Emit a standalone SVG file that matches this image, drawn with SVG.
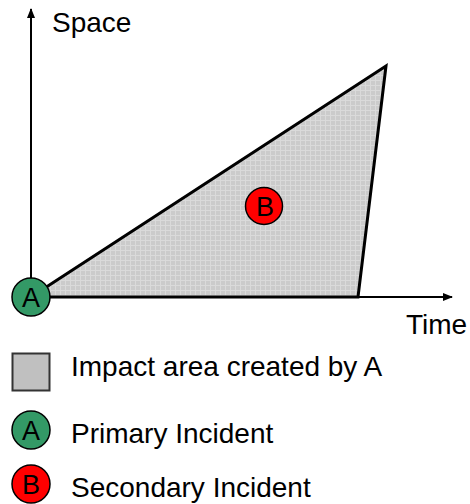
<svg xmlns="http://www.w3.org/2000/svg" width="470" height="504" viewBox="0 0 470 504">
<style>
text{font-family:"Liberation Sans",Arial,sans-serif;font-size:28px;fill:#000}
.ax{stroke:#000;stroke-width:2;fill:none}
.circ{stroke:#000;stroke-width:1.5}
.lbl{text-anchor:middle;font-size:27px}
</style>
<defs>
<pattern id="grid" width="5" height="5" patternUnits="userSpaceOnUse">
<rect width="5" height="5" fill="#cbcbcb"/>
<path d="M0 0.5H5M0.5 0V5" stroke="#dadada" stroke-width="1"/>
</pattern>
<marker id="arr" markerWidth="10" markerHeight="10" refX="9" refY="5" orient="auto" markerUnits="userSpaceOnUse">
<path d="M0 1L10 5L0 9Z" fill="#000"/>
</marker>
</defs>
<g id="area">
<polygon points="31,297 386,66 358,297" fill="url(#grid)" stroke="#000" stroke-width="3" stroke-linejoin="miter"/>
</g>
<g id="connectors">
<line class="ax" x1="31" y1="297" x2="31" y2="9" marker-end="url(#arr)"/>
<line class="ax" x1="31" y1="297" x2="452" y2="297" marker-end="url(#arr)"/>
</g>
<g id="axis-labels">
<text x="52" y="32">Space</text>
<text x="406" y="334">Time</text>
</g>
<g id="nodeA">
<circle class="circ" cx="31" cy="297" r="19" fill="#339966"/>
<text class="lbl" x="31" y="307">A</text>
</g>
<g id="nodeB">
<circle class="circ" cx="264" cy="206" r="18.5" fill="#ff0000"/>
<text class="lbl" x="265" y="216">B</text>
</g>
<g id="legend">
<rect x="12.5" y="353.5" width="37" height="37" fill="#c0c0c0" stroke="#333" stroke-width="2"/>
<text x="71" y="376">Impact area created by A</text>
<circle class="circ" cx="31" cy="430" r="19" fill="#339966"/>
<text class="lbl" x="31" y="440">A</text>
<text x="71" y="443">Primary Incident</text>
<circle class="circ" cx="31" cy="484" r="19" fill="#ff0000"/>
<text class="lbl" x="31" y="494">B</text>
<text x="71" y="497">Secondary Incident</text>
</g>
</svg>
